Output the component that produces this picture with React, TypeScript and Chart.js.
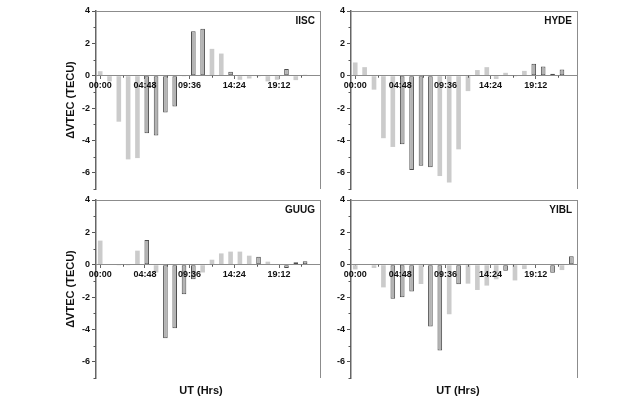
import React, { useEffect, useRef } from 'react';
import Chart from 'chart.js/auto';

// hourly bars (UT hours)
const hours = [0, 1, 2, 3, 4, 5, 6, 7, 8, 9, 10, 11, 12, 13, 14, 15, 16, 17, 18, 19, 20, 21, 22, 23];
const tickHours = [0, 4.8, 9.6, 14.4, 19.2];
const tickLabels = ['00:00', '04:48', '09:36', '14:24', '19:12'];
const minorHours = [2.4, 7.2, 12, 16.8, 21.6];
const yTicks = [-6, -4, -2, 0, 2, 4];
const yMinor = [-7, -5, -3, -1, 1, 3];

const iiscValues = [0.28, -0.35, -2.84, -5.17, -5.09, -3.56, -3.69, -2.28, -1.9, -0.05, 2.75, 2.9, 1.66, 1.37, 0.25, -0.25, -0.17, -0.05, -0.35, -0.25, 0.42, -0.27, 0.06, 0];
const iiscDark = [0, 0, 0, 0, 0, 1, 1, 1, 1, 1, 1, 1, 0, 0, 1, 0, 0, 1, 0, 0, 1, 0, 1, 1];

const hydeValues = [0.82, 0.53, -0.86, -3.86, -4.4, -4.23, -5.83, -5.56, -5.65, -6.2, -6.6, -4.55, -0.95, 0.35, 0.53, -0.2, 0.18, -0.05, 0.3, 0.74, 0.57, 0.12, 0.38, 0.03];
const hydeDark = [0, 0, 0, 0, 0, 1, 1, 1, 1, 0, 0, 0, 0, 0, 0, 0, 0, 1, 0, 1, 1, 1, 1, 1];

const guugValues = [1.49, 0.02, -0.05, -0.05, 0.87, 1.53, -0.48, -4.55, -3.93, -1.82, -0.89, -0.48, 0.31, 0.7, 0.81, 0.81, 0.56, 0.5, 0.19, 0.02, -0.2, 0.15, 0.21, 0];
const guugDark = [0, 1, 1, 1, 0, 1, 0, 1, 1, 1, 1, 0, 0, 0, 0, 0, 0, 1, 0, 0, 1, 1, 1, 0];

const yiblValues = [-0.29, 0, -0.2, -1.4, -2.1, -2.01, -1.66, -1.19, -3.82, -5.3, -3.06, -1.21, -1.17, -1.56, -1.29, -0.9, -0.37, -0.97, -0.27, 0, 0, -0.49, -0.33, 0.53];
const yiblDark = [0, 0, 0, 0, 1, 1, 1, 0, 1, 1, 0, 1, 0, 0, 0, 0, 1, 0, 0, 0, 0, 1, 0, 1];

const FONT = "'Liberation Sans', Arial, sans-serif";

interface PanelProps {
  station: string;
  values: number[];
  dark: number[];
  left: number;
  top: number;
  width: number;
  height: number;
  padding: { left: number; right: number; top: number; bottom: number };
  yWidth: number;
  yTitle: boolean;
}

const Panel: React.FC<PanelProps> = ({ station, values, dark, left, top, width, height, padding, yWidth, yTitle }) => {
  const chartRef = useRef<HTMLCanvasElement>(null);

  useEffect(() => {
    if (!chartRef.current) return;
    const context = chartRef.current.getContext('2d');
    if (!context) return;

    // frame on top and right, minor ticks, station name
    const framePlugin = {
      id: 'frame',
      afterDraw(chart: any) {
        const { ctx, chartArea, scales } = chart;
        ctx.save();
        ctx.strokeStyle = '#8c8c8c';
        ctx.lineWidth = 1;
        ctx.beginPath();
        ctx.moveTo(chartArea.left, chartArea.top + 0.5);
        ctx.lineTo(chartArea.right, chartArea.top + 0.5);
        ctx.moveTo(chartArea.right + 0.5, chartArea.top);
        ctx.lineTo(chartArea.right + 0.5, chartArea.bottom);
        ctx.stroke();

        ctx.strokeStyle = '#555';
        ctx.beginPath();
        yMinor.forEach((v) => {
          const py = Math.round(scales.y.getPixelForValue(v)) + 0.5;
          ctx.moveTo(chartArea.left - 2.5, py);
          ctx.lineTo(chartArea.left, py);
        });
        const zero = scales.y.getPixelForValue(0);
        minorHours.forEach((h) => {
          const px = Math.round(scales.x.getPixelForValue(h)) + 0.5;
          ctx.moveTo(px, zero);
          ctx.lineTo(px, zero + 2);
        });
        ctx.stroke();

        ctx.fillStyle = '#111';
        ctx.font = `bold 10px ${FONT}`;
        ctx.textAlign = 'right';
        ctx.textBaseline = 'middle';
        ctx.fillText(station, chartArea.right - 5, chartArea.top + 10);
        ctx.restore();
      },
    };

    const chart = new Chart(context, {
      type: 'bar',
      data: {
        datasets: [
          {
            data: hours.map((h, i) => ({ x: h, y: values[i] })),
            backgroundColor: dark.map((d) => (d ? '#b3b3b3' : '#cbcbcb')),
            borderColor: dark.map((d) => (d ? '#4d4d4d' : '#cbcbcb')),
            borderWidth: dark.map((d) => (d ? 1 : 0)),
            borderSkipped: false,
            barPercentage: 0.55,
            categoryPercentage: 0.9,
          },
        ],
      },
      options: {
        responsive: false,
        animation: false,
        layout: { padding },
        plugins: { legend: { display: false }, tooltip: { enabled: false } },
        scales: {
          x: {
            type: 'linear',
            position: { y: 0 },
            min: -0.45,
            max: 23.6,
            offset: false,
            grid: { offset: false, drawOnChartArea: false, drawTicks: true, tickLength: 3, tickColor: '#666' },
            border: { display: true, color: '#8c8c8c', width: 1, z: 1 },
            afterBuildTicks: (scale: any) => {
              scale.ticks = tickHours.map((v) => ({ value: v }));
            },
            ticks: {
              z: 1,
              autoSkip: false,
              maxRotation: 0,
              padding: 1,
              color: '#111',
              font: { family: FONT, size: 9, weight: 'bold' },
              callback: (_v: any, i: number) => tickLabels[i],
            },
          },
          y: {
            min: -7,
            max: 4,
            afterBuildTicks: (scale: any) => {
              scale.ticks = yTicks.map((v) => ({ value: v }));
            },
            afterFit: (scale: any) => {
              scale.width = yWidth;
            },
            grid: { drawOnChartArea: false, drawTicks: true, tickLength: 4, tickColor: '#555' },
            border: { display: true, color: '#666', width: 1.5 },
            ticks: {
              padding: 2,
              color: '#111',
              font: { family: FONT, size: 9, weight: 'bold' },
            },
            title: {
              display: yTitle,
              text: 'ΔVTEC (TECU)',
              color: '#111',
              padding: { top: 0, bottom: 0 },
              font: { family: FONT, size: 11, weight: 'bold' },
            },
          },
        },
      },
      plugins: [framePlugin],
    });

    return () => {
      chart.destroy();
    };
  }, [station, values, dark, padding, yWidth, yTitle]);

  return (
    <canvas
      ref={chartRef}
      width={width}
      height={height}
      style={{ position: 'absolute', left, top, width, height }}
    />
  );
};

const xTitleStyle: React.CSSProperties = {
  position: 'absolute',
  top: 384,
  width: 100,
  textAlign: 'center',
  font: `bold 11px ${FONT}`,
  color: '#111',
};

const padTL = { left: 64, right: 10, top: 11, bottom: 11 };
const padTR = { left: 0, right: 63, top: 11, bottom: 11 };
const padBL = { left: 64, right: 10, top: 10, bottom: 36 };
const padBR = { left: 0, right: 63, top: 10, bottom: 36 };

const App: React.FC = () => {
  return (
    <div style={{ position: 'fixed', left: 0, top: 0, width: 640, height: 414, background: '#fff' }}>
      <Panel station="IISC" values={iiscValues} dark={iiscDark} left={0} top={0} width={330} height={200} padding={padTL} yWidth={32} yTitle />
      <Panel station="HYDE" values={hydeValues} dark={hydeDark} left={330} top={0} width={310} height={200} padding={padTR} yWidth={21} yTitle={false} />
      <Panel station="GUUG" values={guugValues} dark={guugDark} left={0} top={190} width={330} height={224} padding={padBL} yWidth={32} yTitle />
      <Panel station="YIBL" values={yiblValues} dark={yiblDark} left={330} top={190} width={310} height={224} padding={padBR} yWidth={21} yTitle={false} />
      <div style={{ ...xTitleStyle, left: 151 }}>UT (Hrs)</div>
      <div style={{ ...xTitleStyle, left: 408 }}>UT (Hrs)</div>
    </div>
  );
};

export default App;
